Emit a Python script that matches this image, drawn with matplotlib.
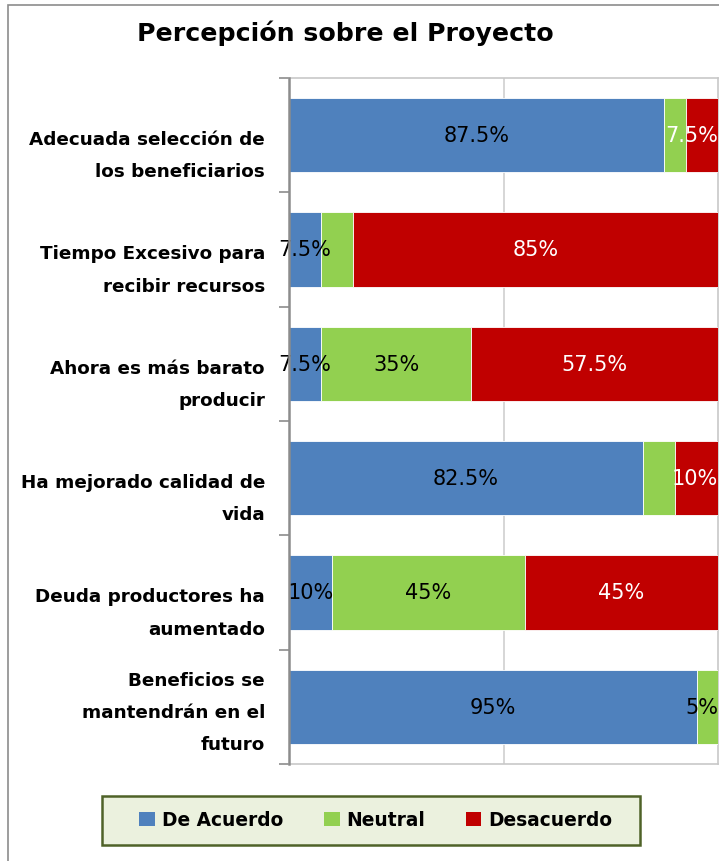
import matplotlib
matplotlib.use("Agg")
import matplotlib.pyplot as plt
from matplotlib.patches import Patch, Rectangle
import numpy as np

categories = [
    "Adecuada selección de\nlos beneficiarios",
    "Tiempo Excesivo para\nrecibir recursos",
    "Ahora es más barato\nproducir",
    "Ha mejorado calidad de\nvida",
    "Deuda productores ha\naumentado",
    "Beneficios se\nmantendrán en el\nfuturo",
]
de_acuerdo = [87.5, 7.5, 7.5, 82.5, 10, 95]
neutral = [5, 7.5, 35, 7.5, 45, 5]
desacuerdo = [7.5, 85, 57.5, 10, 45, 0]
labels_de_acuerdo = ["87.5%", "7.5%", "7.5%", "82.5%", "10%", "95%"]
labels_neutral = ["", "", "35%", "", "45%", "5%"]
labels_desacuerdo = ["7.5%", "85%", "57.5%", "10%", "45%", ""]
series_names = ["De Acuerdo", "Neutral", "Desacuerdo"]
colors = ["#4F81BD", "#92D050", "#C00000"]
label_colors = ["black", "black", "white"]
title = "Percepción sobre el Proyecto"

W, H = 719, 862
fig = plt.figure(figsize=(W / 100, H / 100), dpi=100)
FONT = "DejaVu Sans"

# outer chart border
fig.patches.append(Rectangle((8 / W, -0.1), 1.2, 1 - 6 / H + 0.1, transform=fig.transFigure,
                             fill=False, edgecolor="#8C8C8C", linewidth=1.2))

left, right, top, bottom = 289, 718, 79, 765
ax = fig.add_axes([left / W, 1 - bottom / H, (right - left) / W, (bottom - top) / H])

n = len(categories)
y = np.arange(n)
bar_h = 0.65
series = [de_acuerdo, neutral, desacuerdo]
series_labels = [labels_de_acuerdo, labels_neutral, labels_desacuerdo]
starts = np.zeros(n)
for vals, lbls, c, lc, name in zip(series, series_labels, colors, label_colors, series_names):
    vals = np.array(vals, dtype=float)
    ax.barh(y, vals, left=starts, height=bar_h, color=c, edgecolor="white", linewidth=0.6, label=name, zorder=3)
    for i in range(n):
        if not lbls[i]:
            continue
        center = starts[i] + vals[i] / 2
        if starts[i] + vals[i] >= 99.9 and vals[i] <= 10:
            ax.text(100, y[i], lbls[i], ha="right", va="center", color=lc, fontsize=15,
                    family=FONT, zorder=5, clip_on=False)
        else:
            ax.text(center, y[i], lbls[i], ha="center", va="center", color=lc, fontsize=15,
                    family=FONT, zorder=5, clip_on=False)
    starts = starts + vals

ax.set_xlim(0, 100)
ax.set_ylim(n - 0.5, -0.5)
ax.set_xticks([50])
ax.xaxis.grid(True, color="#D0D0D0", linewidth=1.2, zorder=0)
ax.tick_params(axis="x", length=0, labelbottom=False)
ax.set_yticks(np.arange(n + 1) - 0.5)
ax.set_yticklabels([])
ax.tick_params(axis="y", length=7, width=1.2, color="#8C8C8C", direction="out")
for s in ["top", "right", "bottom"]:
    ax.spines[s].set_color("#C8C8C8")
    ax.spines[s].set_linewidth(1.2)
ax.spines["left"].set_color("#8C8C8C")
ax.spines["left"].set_linewidth(1.8)
ax.spines["left"].set_zorder(6)

# category labels
px = 1 / 114.3
for i, cat in enumerate(categories):
    nlines = cat.count("\n") + 1
    off = 20 * px if nlines == 2 else 5 * px
    ax.text(-24 / (right - left) * 100, y[i] + off, cat, ha="right", va="center",
            fontsize=13.2, fontweight="bold", family=FONT, linespacing=2.02, clip_on=False)

fig.text(345 / W, 1 - 33 / H, title, ha="center", va="center", fontsize=18.2,
         fontweight="bold", family=FONT)

# legend frame
fig.patches.append(Rectangle((102 / W, 1 - 846 / H), (640 - 102) / W, (846 - 797) / H,
                             transform=fig.transFigure, facecolor="#EBF1DE",
                             edgecolor="#4F6228", linewidth=1.8, zorder=1))
handles = [Patch(facecolor=c, edgecolor="none") for c in colors]
leg = fig.legend(handles, series_names, loc="center", bbox_to_anchor=(376 / W, 1 - 821 / H),
                 ncol=3, frameon=False,
                 prop={"family": FONT, "weight": "bold", "size": 13.4}, handlelength=0.85,
                 handleheight=0.85, handletextpad=0.38, columnspacing=2.15, borderpad=0.2,
                 borderaxespad=0)
leg.set_zorder(5)

fig.savefig("out.png", dpi=100)
